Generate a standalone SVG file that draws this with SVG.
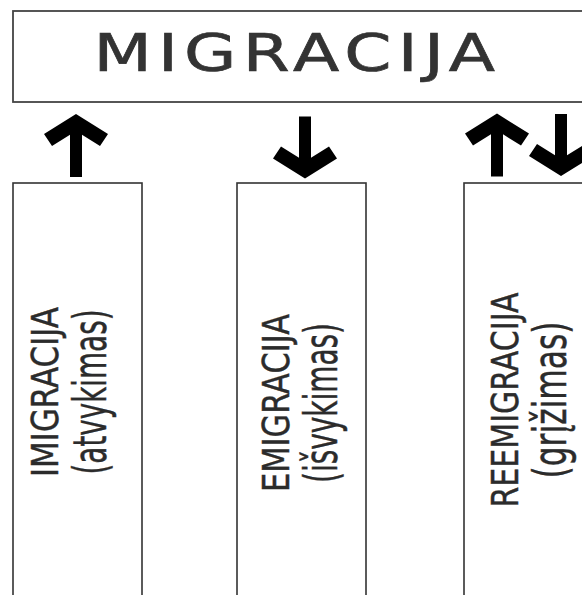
<svg xmlns="http://www.w3.org/2000/svg" width="582" height="595" viewBox="0 0 582 595">
  <defs>
    <style>
      .box { fill: #ffffff; stroke: #333333; stroke-width: 1.6; }
      .title { font-family: "DejaVu Sans", "Liberation Sans", sans-serif; font-size: 52px; fill: #333333; stroke: #333333; stroke-width: 0.7; }
      .lbl { font-family: "DejaVu Sans", "Liberation Sans", sans-serif; font-size: 30px; fill: #2b2b2b; stroke: #2b2b2b; stroke-width: 0.35; text-anchor: middle; }
      .lbl2 { font-size: 36px; }
      .arrow { fill: #000000; }
    </style>
    <path id="up" d="M0,0 L32,20 L24,32 L6,20.75 L6,63 L-6,63 L-6,20.75 L-24,32 L-32,20 Z"/>
    <path id="down" d="M0,0 L32,-20 L24,-32 L6,-20.75 L6,-62 L-6,-62 L-6,-20.75 L-24,-32 L-32,-20 Z"/>
  </defs>
  <rect width="582" height="595" fill="#ffffff"/>

  <g id="migracija">
    <rect class="box" x="13" y="11" width="600" height="91" style="stroke:#444444;stroke-width:1.8"/>
    <g transform="translate(93.4,71) scale(1.3,1)">
      <text class="title" x="0" y="0" textLength="309" lengthAdjust="spacing">MIGRACIJA</text>
    </g>
  </g>

  <g id="imigracija">
    <rect class="box" x="13" y="183" width="129" height="430"/>
    <g transform="translate(58,392) scale(1.27,1) rotate(-90)">
      <text class="lbl" x="0" y="0" textLength="170" lengthAdjust="spacingAndGlyphs">IMIGRACIJA</text>
      <text class="lbl lbl2" x="0" y="38" textLength="165" lengthAdjust="spacingAndGlyphs">(atvykimas)</text>
    </g>
  </g>

  <g id="emigracija">
    <rect class="box" x="237" y="183" width="129" height="430"/>
    <g transform="translate(289,403) scale(1.27,1) rotate(-90)">
      <text class="lbl" x="0" y="0" textLength="178" lengthAdjust="spacingAndGlyphs">EMIGRACIJA</text>
      <text class="lbl lbl2" x="0" y="38" textLength="160" lengthAdjust="spacingAndGlyphs">(išvykimas)</text>
    </g>
  </g>

  <g id="reemigracija">
    <rect class="box" x="464" y="183" width="140" height="430"/>
    <g transform="translate(518,400) scale(1.27,1) rotate(-90)">
      <text class="lbl" x="0" y="0" textLength="215" lengthAdjust="spacingAndGlyphs">REEMIGRACIJA</text>
      <text class="lbl lbl2" x="0" y="38" textLength="157" lengthAdjust="spacingAndGlyphs">(grįžimas)</text>
    </g>
  </g>

  <g id="connectors" class="arrow">
    <use href="#up" x="76" y="114"/>
    <use href="#down" x="305" y="178.5"/>
    <use href="#up" x="497" y="113.5"/>
    <use href="#down" x="561" y="176"/>
  </g>
</svg>
